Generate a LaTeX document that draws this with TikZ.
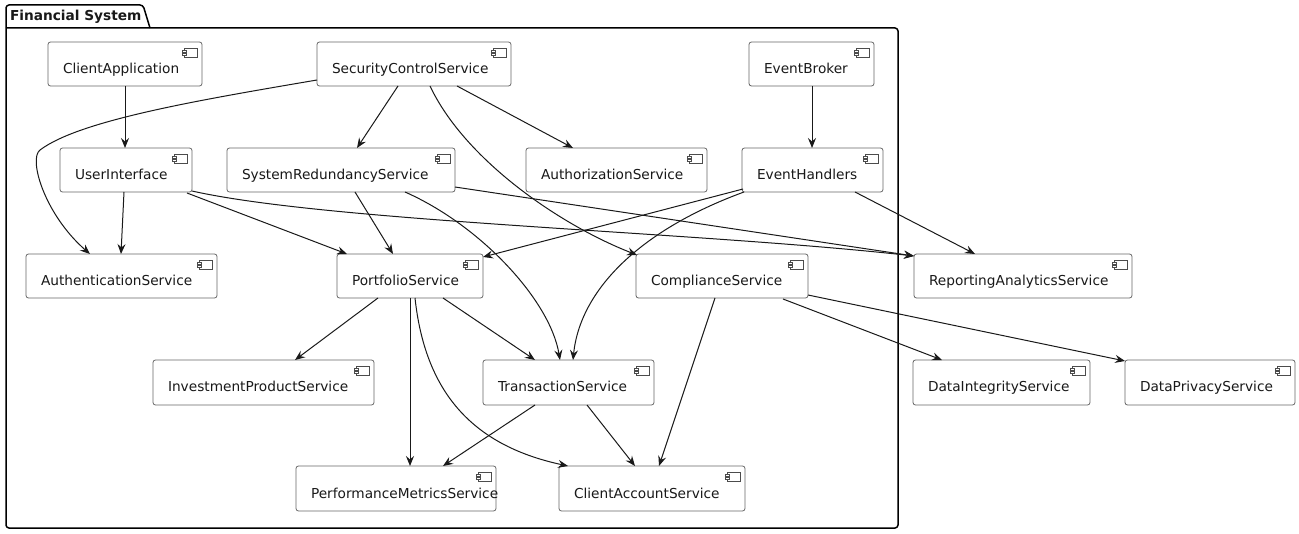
\documentclass[tikz,border=0pt]{standalone}
\usepackage{fontspec}
\setmainfont{DejaVu Sans}
\usetikzlibrary{calc,arrows.meta}
\tikzset{
  comp/.style={draw=black!60, fill=white, line width=0.8pt, rounded corners=2.5pt, inner sep=0pt, outer sep=0pt},
  lbl/.style={inner sep=0pt, outer sep=0pt, font=\fontsize{13.7pt}{16pt}\selectfont, text=black!90},
  compicon/.style={draw=black!70, fill=white, line width=0.6pt},
  pkg/.style={draw=black, line width=1.5pt, line join=round},
  edge/.style={draw=black!90, line width=1pt, -{Stealth[length=10pt,width=8pt,inset=3.5pt]}}
}
\newcommand\mkcomp[6]{%
  \node[comp, minimum width={#4-#2}, minimum height={#5-#3}] (#1) at ({(#2+#4)/2},{(#3+#5)/2}) {};
  \node[lbl, anchor=base west] (#1-t) at ($(#1.north west)+(15,32)$) {#6};
  \draw[compicon] ($(#1.north east)+(-18,6)$) rectangle ($(#1.north east)+(-5,15)$);
  \draw[compicon] ($(#1.north east)+(-20,8)$) rectangle ($(#1.north east)+(-16,10)$);
  \draw[compicon] ($(#1.north east)+(-20,11)$) rectangle ($(#1.north east)+(-16,13)$);
}
\begin{document}
\begin{tikzpicture}[x=1pt,y=-1pt]
\useasboundingbox (0,0) rectangle (1299,534);
% package
\draw[pkg, rounded corners=3pt] (6,28) -- (6,5) -- (143,5) -- (150,28);
\draw[pkg, rounded corners=3pt] (6,28) -- (898,28) -- (898,528) -- (6,528) -- (6,28);
\node[lbl, anchor=base west, font=\fontsize{13.7pt}{16pt}\selectfont\bfseries] (pkgt) at (10,21) {Financial System};
% components
\mkcomp{ca}{48}{42}{202}{86}{ClientApplication}
\mkcomp{scs}{317}{42}{511}{86}{SecurityControlService}
\mkcomp{eb}{749}{42}{874}{86}{EventBroker}
\mkcomp{ui}{60}{148}{192}{192}{UserInterface}
\mkcomp{srs}{227}{148}{455}{192}{SystemRedundancyService}
\mkcomp{az}{526}{148}{707}{192}{AuthorizationService}
\mkcomp{eh}{742}{148}{883}{192}{EventHandlers}
\mkcomp{an}{26}{254}{217}{298}{AuthenticationService}
\mkcomp{ps}{337}{254}{483}{298}{PortfolioService}
\mkcomp{cs}{636}{254}{808}{298}{ComplianceService}
\mkcomp{ra}{914}{254}{1132}{298}{ReportingAnalyticsService}
\mkcomp{ip}{153}{360}{374}{405}{InvestmentProductService}
\mkcomp{ts}{483}{360}{654}{405}{TransactionService}
\mkcomp{di}{913}{360}{1090}{405}{DataIntegrityService}
\mkcomp{dp}{1125}{360}{1295}{405}{DataPrivacyService}
\mkcomp{pm}{296}{466}{496}{511}{PerformanceMetricsService}
\mkcomp{cas}{559}{466}{745}{511}{ClientAccountService}
% connectors
\draw[edge] ($(ca.south west)+(77,0)$) -- ($(ui.north west)+(65,0)$);
\draw[edge] ($(scs.south west)+(0,-6)$) .. controls (200,100) and (80,120) .. (40,150) .. controls (28,159) and (45,215) .. ($(an.north west)+(64,0)$);
\draw[edge] ($(scs.south west)+(81,0)$) -- ($(srs.north west)+(130,0)$);
\draw[edge] ($(scs.south west)+(140,0)$) -- ($(az.north west)+(47,0)$);
\draw[edge] ($(scs.south west)+(113,0)$) .. controls (465,160) and (560,225) .. ($(cs.north west)+(1,1)$);
\draw[edge] ($(eb.south west)+(63,0)$) -- ($(eh.north west)+(70,0)$);
\draw[edge] ($(ui.south west)+(64,0)$) -- ($(an.north west)+(95,0)$);
\draw[edge] ($(ui.south west)+(127,1)$) -- ($(ps.north west)+(10,0)$);
\draw[edge] ($(ui.south east)+(0,-1)$) .. controls (330,222) and (700,232) .. ($(ra.north west)+(0,2)$);
\draw[edge] ($(srs.south west)+(128,0)$) -- ($(ps.north west)+(56,0)$);
\draw[edge] ($(srs.south west)+(178,0)$) .. controls (480,225) and (550,300) .. ($(ts.north west)+(77,0)$);
\draw[edge] ($(srs.south east)+(0,-5)$) -- ($(ra.north west)+(0,2)$);
\draw[edge] ($(eh.south west)+(1,-3)$) -- ($(ps.north east)+(0,3)$);
\draw[edge] ($(eh.south west)+(2,0)$) .. controls (640,230) and (580,290) .. ($(ts.north west)+(90,0)$);
\draw[edge] ($(eh.south west)+(113,0)$) -- ($(ra.north west)+(61,0)$);
\draw[edge] ($(ps.south west)+(41,0)$) -- ($(ip.north west)+(142,0)$);
\draw[edge] ($(ps.south west)+(73,0)$) -- ($(pm.north west)+(114,0)$);
\draw[edge] ($(ps.south west)+(78,0)$) .. controls (425,390) and (470,445) .. ($(cas.north west)+(9,0)$);
\draw[edge] ($(ps.south west)+(106,0)$) -- ($(ts.north west)+(52,0)$);
\draw[edge] ($(cs.south west)+(79,0)$) -- ($(cas.north west)+(100,0)$);
\draw[edge] ($(cs.south west)+(147,1)$) -- ($(di.north west)+(29,0)$);
\draw[edge] ($(cs.south east)+(0,-3)$) -- ($(dp.north west)+(0,1)$);
\draw[edge] ($(ts.south west)+(52,0)$) -- ($(pm.north west)+(147,0)$);
\draw[edge] ($(ts.south west)+(104,0)$) -- ($(cas.north west)+(76,0)$);
\end{tikzpicture}
\end{document}
